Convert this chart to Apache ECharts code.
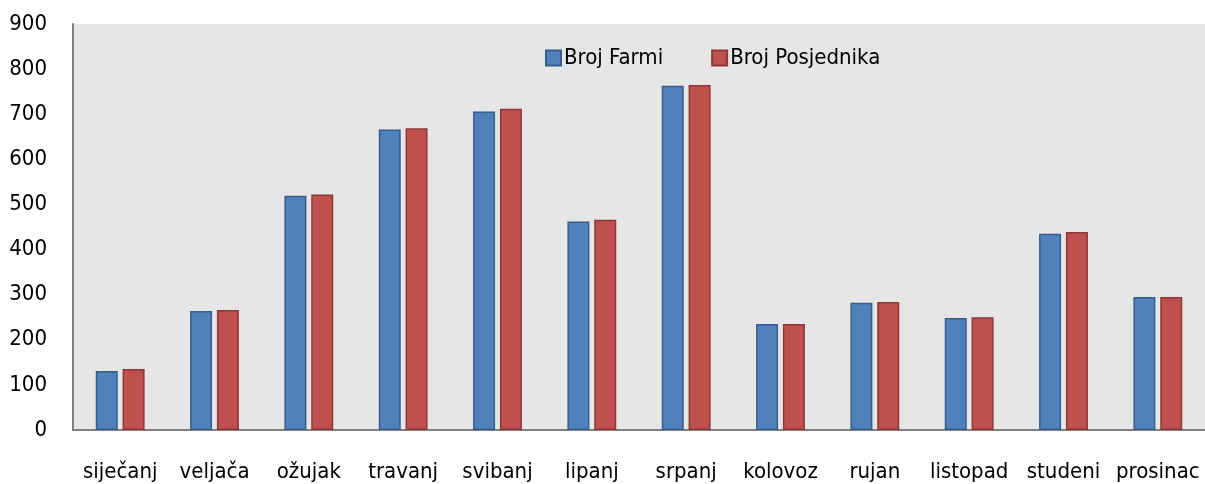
<!DOCTYPE html>
<html>
<head>
<meta charset="utf-8">
<script src="https://cdn.jsdelivr.net/npm/echarts@6/dist/echarts.min.js"></script>
<style>
    html, body { margin: 0; padding: 0; background: #fff; }
    #chart { width: 1205px; height: 484px; }
</style>
</head>
<body>
<div id="chart"></div>
<script>
const months = ['siječanj', 'veljača', 'ožujak', 'travanj', 'svibanj', 'lipanj',
    'srpanj', 'kolovoz', 'rujan', 'listopad', 'studeni', 'prosinac'];
const brojFarmi = [131, 264, 519, 666, 706, 462, 763, 235, 282, 248, 435, 295];
const brojPosjednika = [135, 266, 522, 669, 712, 466, 765, 235, 284, 250, 439, 295];
const yTicks = { min: 0, max: 900, interval: 100 };

const FONT = '"DejaVu Sans Condensed", "Liberation Sans", sans-serif';

let myChart = echarts.init(document.getElementById('chart'));
let option = {
    animation: false,
    textStyle: { fontFamily: FONT },
    grid: {
        left: 73, right: 0, top: 24, bottom: 54,
        show: true,
        backgroundColor: '#e6e6e6',
        borderWidth: 0
    },
    legend: {
        left: 540,
        top: 42,
        itemWidth: 15,
        itemHeight: 15,
        itemGap: 48,
        icon: 'rect',
        textStyle: { fontSize: 22, color: '#000', fontFamily: FONT, padding: [0, 0, 0, -2] },
        data: ['Broj Farmi', 'Broj Posjednika']
    },
    xAxis: {
        type: 'category',
        data: months,
        axisLine: { show: true, lineStyle: { color: '#808080', width: 2 } },
        axisTick: { show: false },
        axisLabel: { color: '#000', fontSize: 22, margin: 31, fontFamily: FONT, interval: 0 }
    },
    yAxis: {
        type: 'value',
        min: yTicks.min,
        max: yTicks.max,
        interval: yTicks.interval,
        axisLine: { show: true, lineStyle: { color: '#808080', width: 2 } },
        axisTick: { show: false },
        splitLine: { show: false },
        axisLabel: { color: '#000', fontSize: 22, margin: 26, fontFamily: FONT }
    },
    series: [
        {
            name: 'Broj Farmi',
            type: 'bar',
            data: brojFarmi,
            barWidth: 22,
            barGap: '22%',
            itemStyle: { color: '#4f81bd', borderColor: '#385d8a', borderWidth: 1.5 }
        },
        {
            name: 'Broj Posjednika',
            type: 'bar',
            data: brojPosjednika,
            barWidth: 22,
            barGap: '22%',
            itemStyle: { color: '#c0504d', borderColor: '#8c3836', borderWidth: 1.5 }
        }
    ]
};
myChart.setOption(option);
</script>
</body>
</html>
